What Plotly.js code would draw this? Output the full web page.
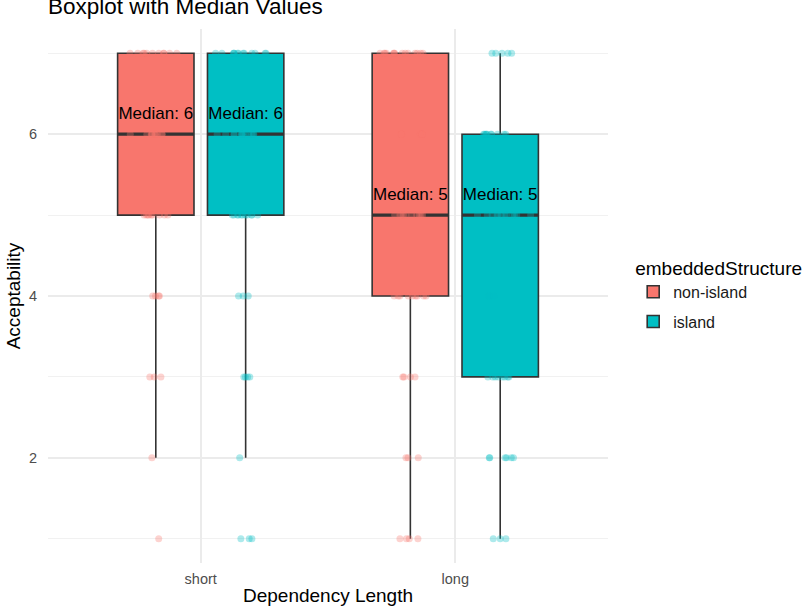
<!DOCTYPE html>
<html>
<head>
<meta charset="utf-8">
<script src="https://cdn.plot.ly/plotly-3.0.1.min.js"></script>
<style>
  html, body { margin: 0; padding: 0; background: #ffffff; }
  #plot { width: 805px; height: 612px; }
</style>
</head>
<body>
<div id="plot"></div>
<script>
// Acceptability ratings (1-7) by dependency length and embedded structure
const lengths = ['short', 'long'];
const groups = ['non-island', 'island'];
const groupColors = ['#F8766D', '#00BFC4'];
const scores = [1, 2, 3, 4, 5, 6, 7];

// number of responses at each score, per condition
const countsShortNonIsland = [1, 1, 3, 4, 9, 11, 11];
const countsLongNonIsland  = [4, 3, 4, 9, 10, 5, 14];
const countsShortIsland    = [3, 1, 4, 3, 11, 13, 13];
const countsLongIsland     = [3, 6, 8, 2, 12, 10, 5];

// box summaries per group, ordered as [short, long]
const q1NonIsland     = [5, 4];
const medianNonIsland = [6, 5];
const q3NonIsland     = [7, 7];
const lowNonIsland    = [2, 1];
const highNonIsland   = [7, 7];

const q1Island     = [5, 3];
const medianIsland = [6, 5];
const q3Island     = [7, 6];
const lowIsland    = [2, 1];
const highIsland   = [7, 7];

const summaries = [
  {q1: q1NonIsland, median: medianNonIsland, q3: q3NonIsland, low: lowNonIsland, high: highNonIsland,
   counts: [countsShortNonIsland, countsLongNonIsland]},
  {q1: q1Island, median: medianIsland, q3: q3Island, low: lowIsland, high: highIsland,
   counts: [countsShortIsland, countsLongIsland]}
];

// expand per-score counts into individual responses
function expand(countsByLength) {
  const xs = [], ys = [];
  countsByLength.forEach((counts, li) => {
    counts.forEach((n, si) => {
      for (let k = 0; k < n; k++) { xs.push(lengths[li]); ys.push(scores[si]); }
    });
  });
  return {x: xs, y: ys};
}

const ink = '#333333';
const fontFamily = 'Liberation Sans, Arial, sans-serif';
const traces = [];

summaries.forEach((s, gi) => {
  const og = groups[gi];
  // filled box with whiskers
  traces.push({
    type: 'box', name: groups[gi], x: lengths, offsetgroup: og, legendgroup: og,
    q1: s.q1, median: s.median, q3: s.q3, lowerfence: s.low, upperfence: s.high,
    fillcolor: groupColors[gi], line: {color: ink, width: 1.6}, whiskerwidth: 0,
    boxpoints: false, hoverinfo: 'skip', showlegend: true
  });
  // heavier median bar
  traces.push({
    type: 'box', name: groups[gi] + ' median', x: lengths, offsetgroup: og,
    q1: s.median, median: s.median, q3: s.median, lowerfence: s.median, upperfence: s.median,
    fillcolor: 'rgba(0,0,0,0)', line: {color: ink, width: 3.2}, whiskerwidth: 0,
    boxpoints: false, hoverinfo: 'skip', showlegend: false
  });
  // jittered individual responses
  const pts = expand(s.counts);
  traces.push({
    type: 'box', name: groups[gi] + ' responses', x: pts.x, y: pts.y, offsetgroup: og,
    boxpoints: 'all', jitter: 0.8, pointpos: 0,
    fillcolor: 'rgba(0,0,0,0)', line: {color: 'rgba(0,0,0,0)', width: 0}, whiskerwidth: 0,
    marker: {color: groupColors[gi], size: 7, opacity: 0.32, line: {width: 0}},
    hoverinfo: 'skip', showlegend: false
  });
});

// median labels above each box (hidden marker keeps the label clear of the bar)
summaries.forEach((s, gi) => {
  traces.push({
    type: 'scatter', mode: 'markers+text', x: lengths, y: s.median, offsetgroup: groups[gi],
    marker: {size: 16, opacity: 0},
    text: s.median.map(m => 'Median: ' + m),
    textposition: 'top center',
    textfont: {family: fontFamily, size: 17, color: '#000000'},
    hoverinfo: 'skip', showlegend: false, cliponaxis: false
  });
});

const layout = {
  width: 805, height: 612,
  paper_bgcolor: '#ffffff', plot_bgcolor: '#ffffff',
  margin: {l: 48, r: 197, t: 29, b: 49, autoexpand: false},
  font: {family: fontFamily, color: '#000000'},
  title: {
    text: 'Boxplot with Median Values',
    font: {size: 22.5, color: '#000000'},
    xref: 'paper', x: 0, xanchor: 'left',
    yref: 'container', y: 0.977, yanchor: 'bottom'
  },
  boxmode: 'group', boxgap: 0.294, boxgroupgap: 0.15,
  scattermode: 'group', scattergap: 0.294,
  xaxis: {
    type: 'category', categoryorder: 'array', categoryarray: lengths,
    range: [-0.6, 1.6], showgrid: true, gridcolor: '#EBEBEB', gridwidth: 1.6,
    zeroline: false, showline: false, ticks: 'outside', ticklen: 3, tickcolor: 'rgba(0,0,0,0)',
    tickfont: {size: 14.5, color: '#4D4D4D'},
    title: {text: 'Dependency Length', font: {size: 19, color: '#000000'}, standoff: 2}
  },
  yaxis: {
    range: [0.7, 7.3], tick0: 0, dtick: 2,
    showgrid: true, gridcolor: '#EBEBEB', gridwidth: 1.6,
    minor: {tick0: 1, dtick: 2, showgrid: true, gridcolor: '#EFEFEF', gridwidth: 0.9},
    zeroline: false, showline: false, ticks: 'outside', ticklen: 7, tickcolor: 'rgba(0,0,0,0)',
    tickfont: {size: 14.5, color: '#4D4D4D'},
    title: {text: 'Acceptability', font: {size: 19, color: '#000000'}, standoff: 3}
  },
  legend: {
    x: 1.045, xanchor: 'left', y: 0.586, yanchor: 'top',
    title: {text: 'embeddedStructure', font: {size: 19, color: '#000000'}},
    font: {size: 16, color: '#1A1A1A'},
    traceorder: 'grouped', tracegroupgap: 6,
    bgcolor: 'rgba(0,0,0,0)'
  },
  showlegend: true
};

Plotly.newPlot('plot', traces, layout, {displayModeBar: false, staticPlot: true});
</script>
</body>
</html>
